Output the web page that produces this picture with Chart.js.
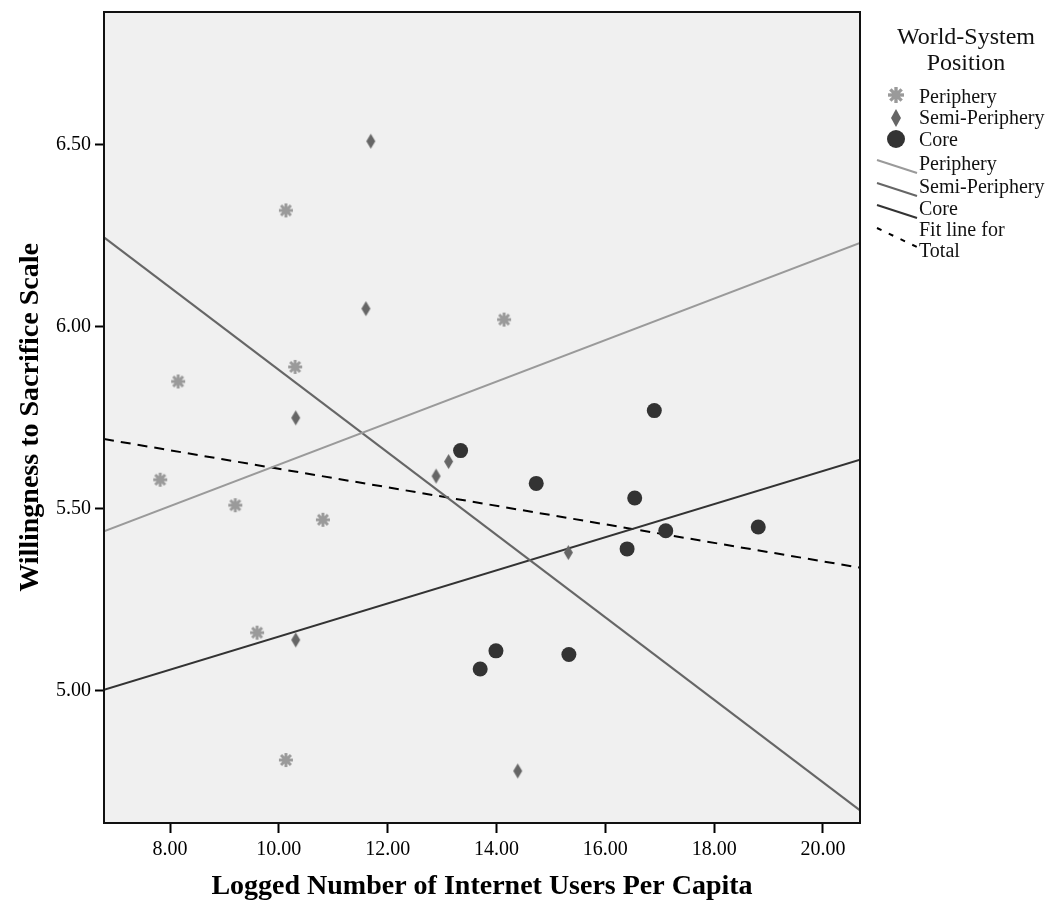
<!DOCTYPE html>
<html>
<head>
<meta charset="utf-8">
<script src="https://cdn.jsdelivr.net/npm/chart.js@4.4.1/dist/chart.umd.min.js"></script>
<style>
  html, body { margin: 0; padding: 0; background: #ffffff; }
  canvas { display: block; }
</style>
</head>
<body>
<canvas id="chart" width="1055" height="905"></canvas>
<script>
// ---- data ----
const groupNames = ['Periphery', 'Semi-Periphery', 'Core'];

const peripheryX = [7.82, 8.15, 9.20, 9.60, 10.13, 10.13, 10.30, 10.81, 14.14];
const peripheryY = [5.58, 5.85, 5.51, 5.16, 6.32, 4.81, 5.89, 5.47, 6.02];

const semiX = [10.31, 10.31, 11.60, 11.69, 12.89, 13.12, 14.39, 15.32];
const semiY = [5.75, 5.14, 6.05, 6.51, 5.59, 5.63, 4.78, 5.38];

const coreX = [13.34, 13.70, 13.99, 14.73, 15.33, 16.40, 16.54, 16.90, 17.11, 18.81];
const coreY = [5.66, 5.06, 5.11, 5.57, 5.10, 5.39, 5.53, 5.77, 5.44, 5.45];

const xTickValues = [8, 10, 12, 14, 16, 18, 20];
const yTickValues = [5.0, 5.5, 6.0, 6.5];
const xRange = [6.787, 20.68];
const yRange = [4.637, 6.865];

const xTitle = 'Logged Number of Internet Users Per Capita';
const yTitle = 'Willingness to Sacrifice Scale';
const legendTitle = ['World-System', 'Position'];
const totalFitLabel = ['Fit line for', 'Total'];

// ---- styling ----
const SERIF = '"Liberation Serif", "Times New Roman", serif';
const colPeriphery = '#9a9a9a';
const colSemi = '#666666';
const colCore = '#333333';

// least-squares line across the full x range
function fitLine(xs, ys) {
  const n = xs.length;
  const mx = xs.reduce((a, b) => a + b, 0) / n;
  const my = ys.reduce((a, b) => a + b, 0) / n;
  let sxy = 0, sxx = 0;
  for (let i = 0; i < n; i++) {
    sxy += (xs[i] - mx) * (ys[i] - my);
    sxx += (xs[i] - mx) * (xs[i] - mx);
  }
  const b = sxy / sxx;
  const a = my - b * mx;
  return xRange.map(x => ({ x, y: a + b * x }));
}

function pairs(xs, ys) { return xs.map((x, i) => ({ x, y: ys[i] })); }

// marker images
function makeAsterisk(r, color) {
  const s = Math.ceil(r * 2 + 2);
  const c = document.createElement('canvas');
  c.width = s; c.height = s;
  const g = c.getContext('2d');
  g.translate(s / 2, s / 2);
  g.strokeStyle = color;
  g.fillStyle = color;
  g.lineWidth = r * 0.42;
  for (let k = 0; k < 4; k++) {
    const a = k * Math.PI / 4;
    g.beginPath();
    g.moveTo(-Math.cos(a) * r, -Math.sin(a) * r);
    g.lineTo(Math.cos(a) * r, Math.sin(a) * r);
    g.stroke();
  }
  g.beginPath();
  g.arc(0, 0, r * 0.55, 0, Math.PI * 2);
  g.fill();
  return c;
}

function makeDiamond(w, h, color) {
  const c = document.createElement('canvas');
  c.width = Math.ceil(w + 2); c.height = Math.ceil(h + 2);
  const g = c.getContext('2d');
  const cx = c.width / 2, cy = c.height / 2;
  g.fillStyle = color;
  g.beginPath();
  g.moveTo(cx, cy - h / 2);
  g.lineTo(cx + w / 2, cy);
  g.lineTo(cx, cy + h / 2);
  g.lineTo(cx - w / 2, cy);
  g.closePath();
  g.fill();
  return c;
}

const asteriskPoint = makeAsterisk(7, colPeriphery);
const diamondPoint = makeDiamond(9, 15, colSemi);
const asteriskLegend = makeAsterisk(8, colPeriphery);
const diamondLegend = makeDiamond(10, 18, colSemi);

const allX = peripheryX.concat(semiX, coreX);
const allY = peripheryY.concat(semiY, coreY);

// ---- plugins ----
const plotFrame = {
  id: 'plotFrame',
  beforeDraw(chart) {
    const { ctx, chartArea: a } = chart;
    ctx.save();
    ctx.fillStyle = '#f0f0f0';
    ctx.fillRect(a.left, a.top, a.right - a.left, a.bottom - a.top);
    ctx.restore();
  },
  afterDatasetsDraw(chart) {
    const { ctx, chartArea: a } = chart;
    ctx.save();
    ctx.strokeStyle = '#111111';
    ctx.lineWidth = 2;
    ctx.strokeRect(a.left, a.top, a.right - a.left, a.bottom - a.top);
    ctx.restore();
  }
};

const sideLegend = {
  id: 'sideLegend',
  afterDraw(chart) {
    const { ctx, chartArea: a } = chart;
    const x0 = a.right;
    ctx.save();
    ctx.fillStyle = '#111111';
    ctx.textBaseline = 'middle';
    ctx.font = '24px ' + SERIF;
    ctx.textAlign = 'center';
    ctx.fillText(legendTitle[0], x0 + 106, 38);
    ctx.fillText(legendTitle[1], x0 + 106, 64);

    ctx.font = '20px ' + SERIF;
    ctx.textAlign = 'left';
    const sx = x0 + 36, tx = x0 + 59;

    // point symbols
    const rowsPts = [98, 119, 141];
    ctx.drawImage(asteriskLegend, sx - asteriskLegend.width / 2, rowsPts[0] - 3 - asteriskLegend.height / 2);
    ctx.drawImage(diamondLegend, sx - diamondLegend.width / 2, rowsPts[1] - 1 - diamondLegend.height / 2);
    ctx.beginPath();
    ctx.fillStyle = colCore;
    ctx.arc(sx, rowsPts[2] - 2, 9, 0, Math.PI * 2);
    ctx.fill();
    ctx.fillStyle = '#111111';
    groupNames.forEach((t, i) => ctx.fillText(t, tx, rowsPts[i]));

    // fit line symbols
    const rowsLines = [165, 188, 210];
    const lineCols = [colPeriphery, colSemi, colCore];
    rowsLines.forEach((y, i) => {
      ctx.strokeStyle = lineCols[i];
      ctx.lineWidth = 2;
      ctx.beginPath();
      ctx.moveTo(x0 + 17, y - 5);
      ctx.lineTo(x0 + 57, y + 8);
      ctx.stroke();
      ctx.fillText(groupNames[i], tx, y);
    });

    // total fit line
    ctx.strokeStyle = '#000000';
    ctx.setLineDash([5, 8]);
    ctx.beginPath();
    ctx.moveTo(x0 + 17, 228);
    ctx.lineTo(x0 + 57, 247);
    ctx.stroke();
    ctx.setLineDash([]);
    ctx.fillText(totalFitLabel[0], tx, 231);
    ctx.fillText(totalFitLabel[1], tx, 252);
    ctx.restore();
  }
};

// ---- chart ----
new Chart(document.getElementById('chart'), {
  type: 'scatter',
  data: {
    datasets: [
      { label: groupNames[0], data: pairs(peripheryX, peripheryY), pointStyle: asteriskPoint, order: 1 },
      { label: groupNames[1], data: pairs(semiX, semiY), pointStyle: diamondPoint, order: 1 },
      { label: groupNames[2], data: pairs(coreX, coreY), pointStyle: 'circle', pointRadius: 7.5,
        backgroundColor: colCore, borderColor: colCore, borderWidth: 0, order: 1 },
      { type: 'line', label: groupNames[0] + ' fit', data: fitLine(peripheryX, peripheryY),
        borderColor: colPeriphery, borderWidth: 2, pointRadius: 0, order: 2 },
      { type: 'line', label: groupNames[1] + ' fit', data: fitLine(semiX, semiY),
        borderColor: colSemi, borderWidth: 2, pointRadius: 0, order: 2 },
      { type: 'line', label: groupNames[2] + ' fit', data: fitLine(coreX, coreY),
        borderColor: colCore, borderWidth: 2, pointRadius: 0, order: 2 },
      { type: 'line', label: totalFitLabel.join(' '), data: fitLine(allX, allY),
        borderColor: '#000000', borderWidth: 2, borderDash: [10, 7], pointRadius: 0, order: 2 }
    ]
  },
  options: {
    responsive: false,
    animation: false,
    layout: { padding: { top: 12, right: 195, left: 0, bottom: 0 } },
    plugins: { legend: { display: false }, tooltip: { enabled: false } },
    scales: {
      x: {
        type: 'linear',
        min: xRange[0],
        max: xRange[1],
        afterBuildTicks: s => { s.ticks = xTickValues.map(v => ({ value: v })); },
        afterFit: s => { s.height = 82; s.paddingLeft = 0; s.paddingRight = 0; },
        ticks: {
          callback: v => Number(v).toFixed(2),
          font: { family: SERIF, size: 20 },
          color: '#000000',
          padding: 5,
          maxRotation: 0,
          autoSkip: false
        },
        grid: { display: true, drawOnChartArea: false, drawTicks: true, tickLength: 10, tickColor: '#000000', tickWidth: 2 },
        border: { display: true, color: '#111111', width: 2 },
        title: {
          display: true, text: xTitle, color: '#000000',
          font: { family: SERIF, size: 28, weight: 'bold' },
          padding: { top: 0, bottom: 1 }
        }
      },
      y: {
        type: 'linear',
        min: yRange[0],
        max: yRange[1],
        afterBuildTicks: s => { s.ticks = yTickValues.map(v => ({ value: v })); },
        afterFit: s => { s.width = 104; s.paddingTop = 0; s.paddingBottom = 0; },
        ticks: {
          callback: v => Number(v).toFixed(2),
          font: { family: SERIF, size: 20 },
          color: '#000000',
          padding: 4,
          autoSkip: false
        },
        grid: { display: true, drawOnChartArea: false, drawTicks: true, tickLength: 9, tickColor: '#000000', tickWidth: 2 },
        border: { display: true, color: '#111111', width: 2 },
        title: {
          display: true, text: yTitle, color: '#000000',
          font: { family: SERIF, size: 28, weight: 'bold' },
          padding: { top: 14, bottom: 0 }
        }
      }
    }
  },
  plugins: [plotFrame, sideLegend]
});
</script>
</body>
</html>
